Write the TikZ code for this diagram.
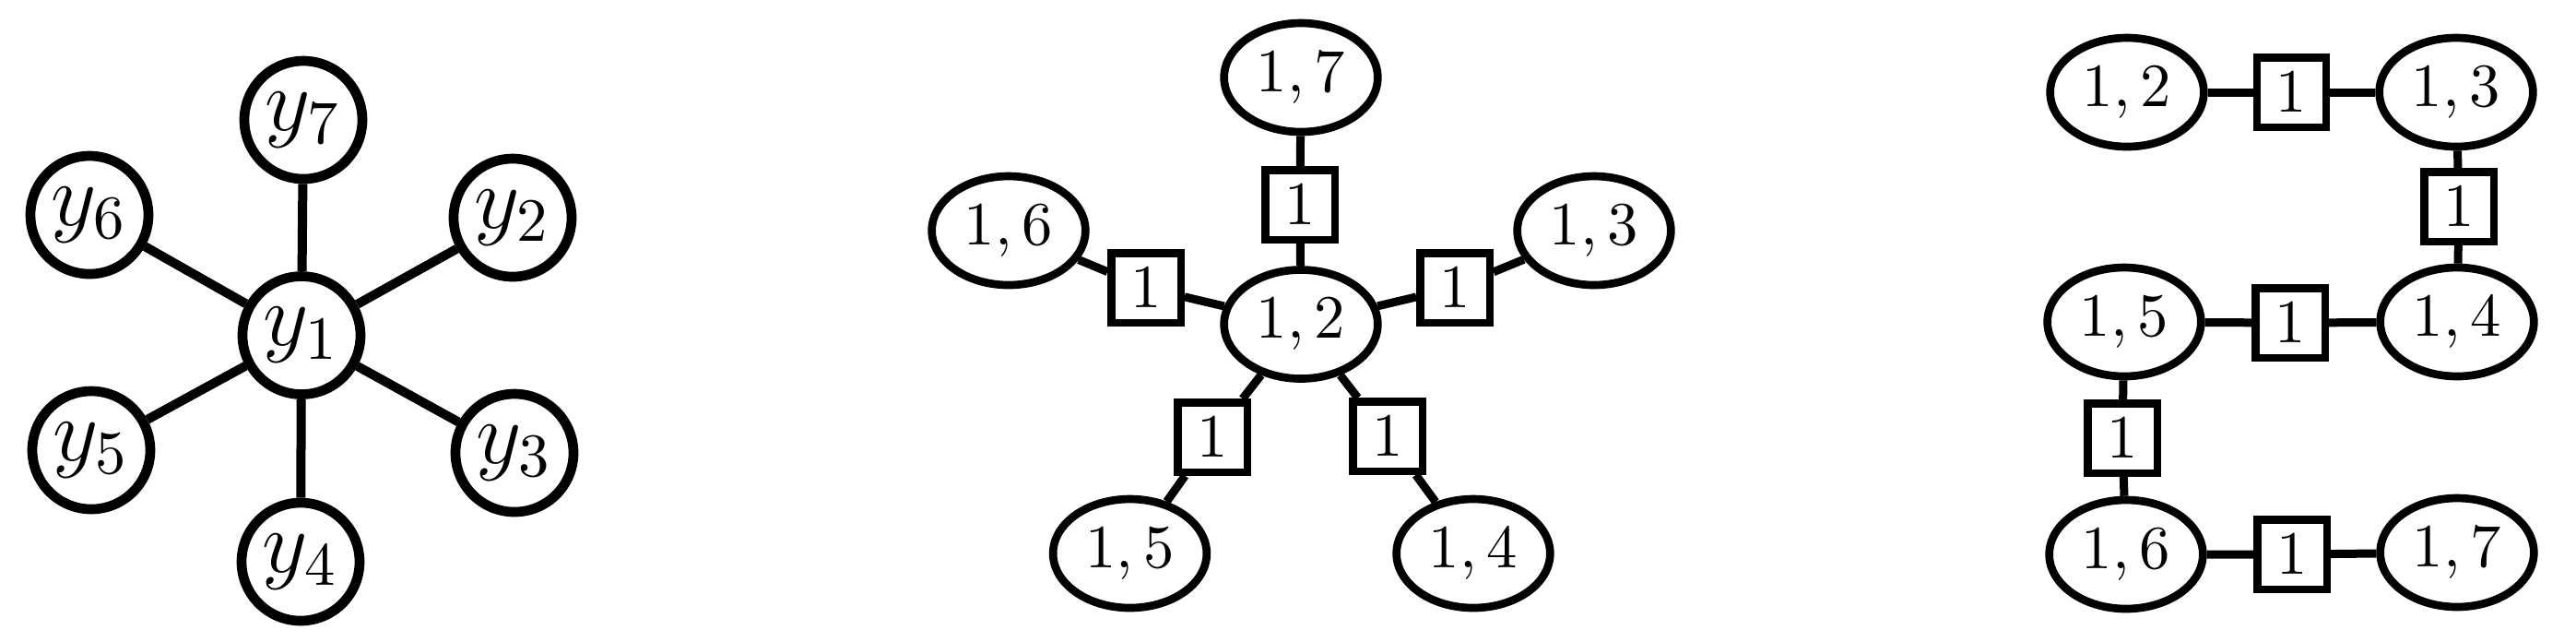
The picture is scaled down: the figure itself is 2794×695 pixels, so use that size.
\documentclass[tikz,border=0pt]{standalone}
\usetikzlibrary{shapes.geometric}
\begin{document}
\begin{tikzpicture}[x=0.15pt, y=-0.15pt,
  ynode/.style={circle, draw, line width=1.6pt, minimum size=19.2pt, inner sep=0pt, font=\Large},
  pnode/.style={ellipse, draw, line width=1.3pt, minimum width=25pt, minimum height=17.7pt, inner sep=0pt},
  wbox/.style={rectangle, draw, line width=1.25pt, minimum size=11.3pt, inner sep=0pt},
  yedge/.style={line width=1.5pt},
  pedge/.style={line width=1.35pt}]
\useasboundingbox (0,0) rectangle (2794,695);
% left graph
\node[ynode] (y1) at (327,363.5) {$y_1$};
\node[ynode] (y7) at (329,130) {$y_7$};
\node[ynode] (y6) at (97,233) {$y_6$};
\node[ynode] (y2) at (556,236) {$y_2$};
\node[ynode] (y5) at (99,488) {$y_5$};
\node[ynode] (y3) at (558,491) {$y_3$};
\node[ynode] (y4) at (326,609) {$y_4$};
\foreach \t in {y2,y3,y4,y5,y6,y7} \draw[yedge] (y1) -- (\t);
% middle graph
\node[pnode] (m12) at (1411,351.5) {$1,2$};
\node[pnode] (m17) at (1411,84) {$1,7$};
\node[pnode] (m16) at (1094,250) {$1,6$};
\node[pnode] (m13) at (1729,250) {$1,3$};
\node[pnode] (m15) at (1225.5,600) {$1,5$};
\node[pnode] (m14) at (1598,600) {$1,4$};
\node[wbox] (mb7) at (1410,222) {$1$};
\node[wbox] (mb6) at (1243,312) {$1$};
\node[wbox] (mb3) at (1578,312) {$1$};
\node[wbox] (mb5) at (1315,474) {$1$};
\node[wbox] (mb4) at (1505,473) {$1$};
\draw[pedge] (m12) -- (mb7) -- (m17);
\draw[pedge] (m12) -- (mb6) -- (m16);
\draw[pedge] (m12) -- (mb3) -- (m13);
\draw[pedge] (m12) -- (mb5) -- (m15);
\draw[pedge] (m12) -- (mb4) -- (m14);
% right graph
\node[pnode] (r12) at (2307,100) {$1,2$};
\node[pnode] (r13) at (2664,100) {$1,3$};
\node[pnode] (r14) at (2665,349) {$1,4$};
\node[pnode] (r15) at (2304,349) {$1,5$};
\node[pnode] (r16) at (2306,601) {$1,6$};
\node[pnode] (r17) at (2665,599) {$1,7$};
\node[wbox] (rb23) at (2485.5,100) {$1$};
\node[wbox] (rb34) at (2667,224) {$1$};
\node[wbox] (rb45) at (2484,350) {$1$};
\node[wbox] (rb56) at (2302,475) {$1$};
\node[wbox] (rb67) at (2486,601) {$1$};
\draw[pedge] (r12) -- (rb23) -- (r13);
\draw[pedge] (r13) -- (rb34) -- (r14);
\draw[pedge] (r14) -- (rb45) -- (r15);
\draw[pedge] (r15) -- (rb56) -- (r16);
\draw[pedge] (r16) -- (rb67) -- (r17);
\end{tikzpicture}
\end{document}
